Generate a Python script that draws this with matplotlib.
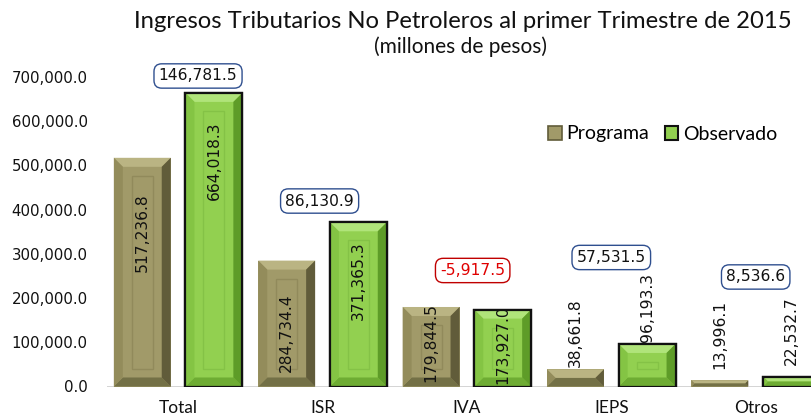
import matplotlib
matplotlib.use("Agg")
import matplotlib.pyplot as plt
from matplotlib.patches import Polygon, Rectangle, Patch
import numpy as np

categories = ["Total", "ISR", "IVA", "IEPS", "Otros"]
programa = [517236.8, 284734.4, 179844.5, 38661.8, 13996.1]
observado = [664018.3, 371365.3, 173927.0, 96193.3, 22532.7]
diferencia = [146781.5, 86130.9, -5917.5, 57531.5, 8536.6]
yticks = [0, 100000, 200000, 300000, 400000, 500000, 600000, 700000]

# label placement (data units) for the rotated value labels and difference boxes
label_y_prog = [348300, 122100, 99500, 122100, 118700]
label_y_obs = [510000, 238600, 93900, 179800, 125500]
box_y = [702300, 419500, 262400, 291800, 247700]
box_dx = [0.138, -0.02, 0.04, 0.0, 0.0]

W, H = 811, 417
fig = plt.figure(figsize=(W / 100, H / 100), dpi=100)
ax = fig.add_axes([107 / W, (H - 386.5) / H, 1 - 107 / W, (386.5 - 77) / H])

x = np.arange(len(categories))
off = 0.248
bw = 0.394
ax.set_xlim(-0.4924, 4.383)
ax.set_ylim(0, 700000)

prog_col = dict(face="#A19A69", top="#BAB483", left="#938C5B", right="#615C3A", bottom="#737046", inner="#918A5B")
obs_col = dict(face="#92D050", top="#B0E47A", left="#84C444", right="#5E9C28", bottom="#6EAC33", inner="#84C246")

bars_p = ax.bar(x - off, programa, bw, color=prog_col["face"], edgecolor="none", zorder=2)
bars_o = ax.bar(x + off, observado, bw, color=obs_col["face"], edgecolor="#111111", linewidth=1.6, zorder=2)

inv = ax.transData.inverted()


def bevel(rect, cols, outline=None):
    (x0, y0), (x1, y1) = ax.transData.transform([(rect.get_x(), rect.get_y()),
                                                 (rect.get_x() + rect.get_width(), rect.get_y() + rect.get_height())])
    h = y1 - y0
    b = min(9.0, h / 2.0)
    def poly(pts, c):
        d = inv.transform(pts)
        ax.add_patch(Polygon(d, closed=True, facecolor=c, edgecolor="none", zorder=3))
    poly([(x0, y1), (x1, y1), (x1 - b, y1 - b), (x0 + b, y1 - b)], cols["top"])
    poly([(x0, y0), (x1, y0), (x1 - b, y0 + b), (x0 + b, y0 + b)], cols["bottom"])
    poly([(x0, y0), (x0, y1), (x0 + b, y1 - b), (x0 + b, y0 + b)], cols["left"])
    poly([(x1, y0), (x1, y1), (x1 - b, y1 - b), (x1 - b, y0 + b)], cols["right"])
    ib = 2 * b if h > 4 * b else b
    if h > 2 * ib:
        (a0, c0) = inv.transform((x0 + ib, y0 + ib))
        (a1, c1) = inv.transform((x1 - ib, y1 - ib))
        ax.add_patch(Rectangle((a0, c0), a1 - a0, c1 - c0, facecolor="none",
                               edgecolor=cols["inner"], linewidth=1.0, zorder=3))
    if outline:
        ax.add_patch(Rectangle((rect.get_x(), rect.get_y()), rect.get_width(), rect.get_height(),
                               facecolor="none", edgecolor=outline, linewidth=1.6, zorder=4))


for r in bars_p:
    bevel(r, prog_col)
for r in bars_o:
    bevel(r, obs_col, outline="#111111")

lab_font = dict(family="DejaVu Sans", fontsize=11.2, color="#111111")
for i in range(len(categories)):
    ax.text(x[i] - off, label_y_prog[i], f"{programa[i]:,.1f}", rotation=90,
            ha="center", va="center", zorder=6, **lab_font)
    ax.text(x[i] + off, label_y_obs[i], f"{observado[i]:,.1f}", rotation=90,
            ha="center", va="center", zorder=6, clip_on=False, **lab_font)

for i, d in enumerate(diferencia):
    neg = d < 0
    ax.text(x[i] + box_dx[i], box_y[i], f"{d:,.1f}", ha="center", va="center",
            family="DejaVu Sans", fontsize=11.2, color="#E00000" if neg else "#111111",
            zorder=7, clip_on=False,
            bbox=dict(boxstyle="round,pad=0.3,rounding_size=0.5", facecolor="white",
                      edgecolor="#C00000" if neg else "#2F4F8F", linewidth=1.0))

# axes styling
for s in ax.spines.values():
    s.set_visible(False)
ax.axhline(0, color="#D0D0D0", linewidth=2.0, zorder=1)
ax.set_yticks(yticks)
ax.set_yticklabels([f"{v:,.1f}" for v in yticks], family="DejaVu Sans", fontsize=10.8, color="#111111")
ax.tick_params(axis="y", length=0, pad=14)
ax.set_xticks(x)
ax.set_xticklabels(categories, family="Lato", fontsize=12.5, color="#111111")
ax.tick_params(axis="x", length=0, pad=10)

fig.text(462.5 / W, 1 - 21 / H, "Ingresos Tributarios No Petroleros al primer Trimestre de 2015",
         ha="center", va="center", family="Lato", fontsize=17.2, color="#111111")
fig.text(461 / W, 1 - 47 / H, "(millones de pesos)", ha="center", va="center",
         family="Lato", fontsize=15, color="#111111")

handles = [Patch(facecolor=prog_col["face"], edgecolor=prog_col["right"], linewidth=1.2),
           Patch(facecolor=obs_col["face"], edgecolor="#111111", linewidth=1.5)]
leg = fig.legend(handles, ["Programa", "Observado"], loc="center left",
                 bbox_to_anchor=(548 / W, 1 - 134 / H), ncol=2, frameon=False,
                 prop=dict(family="Lato", size=14), handlelength=0.7, handleheight=0.7,
                 handletextpad=0.25, columnspacing=0.8, borderaxespad=0, borderpad=0)

fig.savefig("out.png", dpi=100)
